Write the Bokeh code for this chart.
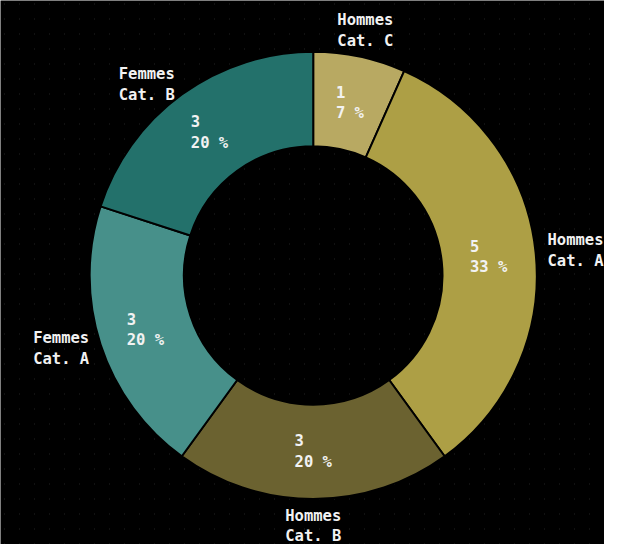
import numpy as np
from bokeh.plotting import figure
from bokeh.models import ColumnDataSource, Range1d, FixedTicker
from bokeh.core.properties import value
from bokeh.embed import file_html
from bokeh.resources import INLINE

categories = ["Hommes\nCat. C", "Hommes\nCat. A", "Hommes\nCat. B", "Femmes\nCat. A", "Femmes\nCat. B"]
counts = [1, 5, 3, 3, 3]
colors = ["#b8a962", "#ad9f45", "#6b6230", "#47908a", "#23716b"]

W, H = 604, 544
S = 0.972
CX, CY = 321 * 604 / 620, H - 283 * 544 / 560
R_OUT, R_IN = 230 * S, 133 * S

vals = np.array(counts, dtype=float)
total = vals.sum()
cum_end = np.cumsum(vals)
cum_start = cum_end - vals
start = np.pi / 2 - 2 * np.pi * cum_end / total
end = np.pi / 2 - 2 * np.pi * cum_start / total
mid = (start + end) / 2
pct = np.round(vals / total * 100).astype(int)

inner_txt = []
for c, q in zip(counts, pct):
    a, b = str(c), f"{q} %"
    n = max(len(a), len(b))
    inner_txt.append(a.ljust(n) + "\n" + b.ljust(n))

r_mid = (R_OUT + R_IN) / 2
cosm, sinm = np.cos(mid), np.sin(mid)
align = ["left" if c > 0.3 else ("right" if c < -0.3 else "center") for c in cosm]
r_lab = np.array([R_OUT + (12 if a != "center" else 27) for a in align])

src = ColumnDataSource(dict(
    start=start, end=end, color=colors,
    ix=CX + r_mid * cosm, iy=CY + r_mid * sinm, itext=inner_txt,
    ox=CX + r_lab * cosm, oy=CY + r_lab * sinm, otext=categories, align=align,
))

p = figure(width=W, height=H, x_range=Range1d(0, W), y_range=Range1d(0, H),
           output_backend="svg", toolbar_location=None, min_border=0)
p.background_fill_color = "#000000"
p.border_fill_color = "#000000"
p.outline_line_color = None
p.xaxis.visible = False
p.yaxis.visible = False
p.xgrid.ticker = FixedTicker(ticks=list(range(4, W, 15)))
p.ygrid.visible = False
p.xgrid.grid_line_color = "#2a2a2a"
p.xgrid.grid_line_dash = "1 14"
p.xgrid.grid_line_alpha = 0.8

p.annular_wedge(x=CX, y=CY, inner_radius=R_IN, outer_radius=R_OUT,
                start_angle="start", end_angle="end", direction="anticlock",
                fill_color="color", line_color="#000000", line_width=2, source=src)

p.text(x="ix", y="iy", text="itext", source=src, text_color="#f2f2f2",
       text_font=value("DejaVu Sans Mono"), text_font_size="15.5px", text_font_style="bold",
       text_align="center", text_baseline="middle", text_line_height=1.15)

p.text(x="ox", y="oy", text="otext", source=src, text_color="#f2f2f2",
       text_font=value("DejaVu Sans Mono"), text_font_size="15.5px", text_font_style="bold",
       text_align="align", text_baseline="middle", text_line_height=1.15)

open("out.html", "w").write(file_html(p, INLINE))
